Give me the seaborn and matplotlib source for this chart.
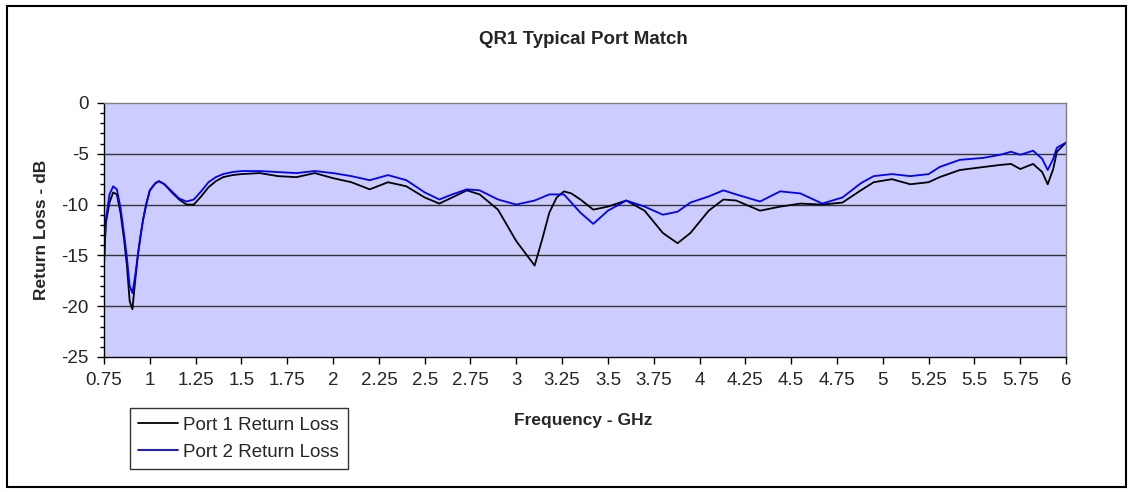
import numpy as np
import pandas as pd
import seaborn as sns
import matplotlib.pyplot as plt
from matplotlib.patches import Rectangle
from matplotlib.ticker import MultipleLocator

# Data (GHz, dB)
freq = [0.75, 0.76, 0.78, 0.80, 0.82, 0.84, 0.86, 0.875, 0.89, 0.905, 0.92, 0.936,
        0.95, 0.963, 0.98, 1.0, 1.03, 1.05, 1.08, 1.12, 1.16, 1.20, 1.24, 1.28,
        1.32, 1.36, 1.40, 1.45, 1.5, 1.6, 1.7, 1.8, 1.9, 2.0, 2.1, 2.2, 2.3, 2.4,
        2.5, 2.58, 2.65, 2.73, 2.8, 2.9, 3.0, 3.05, 3.10, 3.14, 3.18, 3.22, 3.26,
        3.30, 3.35, 3.42, 3.5, 3.6, 3.7, 3.8, 3.88, 3.95, 4.05, 4.13, 4.2, 4.33,
        4.44, 4.55, 4.67, 4.78, 4.88, 4.95, 5.05, 5.15, 5.25, 5.31, 5.42, 5.55,
        5.64, 5.70, 5.75, 5.82, 5.87, 5.90, 5.93, 5.95, 6.0]

port1 = [-15.5, -11.8, -9.8, -8.8, -9.0, -10.8, -13.5, -16.0, -19.5, -20.3, -17.5, -14.8,
         -13.0, -11.5, -10.0, -8.6, -7.9, -7.7, -8.0, -8.8, -9.5, -10.0, -10.0, -9.2,
         -8.3, -7.7, -7.3, -7.1, -7.0, -6.9, -7.2, -7.3, -6.9, -7.4, -7.8, -8.5, -7.8, -8.2,
         -9.3, -9.9, -9.3, -8.6, -9.0, -10.5, -13.6, -14.8, -16.0, -13.5, -10.8, -9.3, -8.7,
         -8.9, -9.5, -10.5, -10.2, -9.6, -10.6, -12.8, -13.8, -12.8, -10.6, -9.5, -9.6, -10.6,
         -10.2, -9.9, -10.0, -9.8, -8.6, -7.8, -7.5, -8.0, -7.8, -7.3, -6.6, -6.3,
         -6.1, -6.0, -6.5, -6.0, -6.8, -8.0, -6.5, -4.8, -3.9]

port2 = [-16.0, -11.5, -9.0, -8.2, -8.5, -10.3, -13.0, -15.2, -18.0, -18.7, -17.0, -14.8,
         -13.0, -11.5, -10.0, -8.6, -7.9, -7.7, -8.0, -8.7, -9.4, -9.7, -9.5, -8.7,
         -7.8, -7.3, -7.0, -6.8, -6.7, -6.7, -6.8, -6.9, -6.7, -6.9, -7.2, -7.6, -7.1, -7.6,
         -8.8, -9.5, -9.0, -8.5, -8.6, -9.5, -10.0, -9.8, -9.6, -9.3, -9.0, -9.0, -9.0,
         -9.8, -10.8, -11.9, -10.6, -9.6, -10.2, -11.0, -10.7, -9.8, -9.2, -8.6, -9.0, -9.7,
         -8.7, -8.9, -9.9, -9.3, -7.9, -7.2, -7.0, -7.2, -7.0, -6.3, -5.6, -5.4,
         -5.1, -4.8, -5.1, -4.7, -5.5, -6.6, -5.5, -4.4, -3.9]

series_names = ['Port 1 Return Loss', 'Port 2 Return Loss']
x_ticks = [0.75, 1, 1.25, 1.5, 1.75, 2, 2.25, 2.5, 2.75, 3, 3.25, 3.5, 3.75,
           4, 4.25, 4.5, 4.75, 5, 5.25, 5.5, 5.75, 6]
x_tick_labels = ['0.75', '1', '1.25', '1.5', '1.75', '2', '2.25', '2.5', '2.75', '3',
                 '3.25', '3.5', '3.75', '4', '4.25', '4.5', '4.75', '5', '5.25',
                 '5.5', '5.75', '6']
y_ticks = [0, -5, -10, -15, -20, -25]

df = pd.concat([
    pd.DataFrame({'freq': freq, 'dB': port1, 'series': series_names[0]}),
    pd.DataFrame({'freq': freq, 'dB': port2, 'series': series_names[1]}),
])

sns.set_style('white')
plt.rcParams['font.family'] = ['Liberation Sans', 'DejaVu Sans']

fig = plt.figure(figsize=(11.33, 4.92), dpi=100)
ax = fig.add_axes([0.0918, 0.2744, 0.8491, 0.5163])
ax.set_facecolor('#CCCCFF')

sns.lineplot(data=df, x='freq', y='dB', hue='series', sort=False,
             palette={series_names[0]: 'black', series_names[1]: '#0000FF'},
             linewidth=1.3, ax=ax, legend=False)

ax.set_xlim(0.75, 6)
ax.set_ylim(-25, 0)
ax.set_xticks(x_ticks)
ax.set_xticklabels(x_tick_labels, fontsize=13.5)
ax.set_yticks(y_ticks)
ax.set_yticklabels([str(v) for v in y_ticks], fontsize=13.5)
ax.yaxis.set_minor_locator(MultipleLocator(1))
ax.tick_params(axis='both', which='major', direction='out', length=5, width=1,
               color='black', bottom=True, left=True, pad=6)
ax.tick_params(axis='y', which='minor', direction='out', length=3, width=1,
               color='black', left=True)

for y in [-5, -10, -15, -20]:
    ax.axhline(y, color='#333333', linewidth=1, zorder=1)

for side in ['top', 'right']:
    ax.spines[side].set_color('#808080')
    ax.spines[side].set_linewidth(1)
for side in ['left', 'bottom']:
    ax.spines[side].set_color('black')
    ax.spines[side].set_linewidth(1)

ax.set_xlabel('')
ax.set_ylabel('Return Loss - dB', fontsize=12.5, fontweight='bold', labelpad=9)
fig.text(0.515, 0.146, 'Frequency - GHz', ha='center', va='center',
         fontsize=12.5, fontweight='bold')
fig.text(0.515, 0.919, 'QR1 Typical Port Match', ha='center', va='center',
         fontsize=13.5, fontweight='bold')

handles = [plt.Line2D([], [], color='black', linewidth=1.3),
           plt.Line2D([], [], color='#0000FF', linewidth=1.3)]
leg = fig.legend(handles, series_names, loc='upper left',
                 bbox_to_anchor=(0.1147, 0.1707), fontsize=13.5, frameon=True,
                 fancybox=False, edgecolor='black', handlelength=2.1,
                 handletextpad=0.3, borderpad=0.45, labelspacing=0.55,
                 borderaxespad=0)
leg.get_frame().set_linewidth(1)

fig.patches.append(Rectangle((0.006, 0.01), 0.988, 0.978, transform=fig.transFigure,
                             fill=False, edgecolor='black', linewidth=1.5))

fig.savefig('out.png', dpi=100, facecolor='white')
